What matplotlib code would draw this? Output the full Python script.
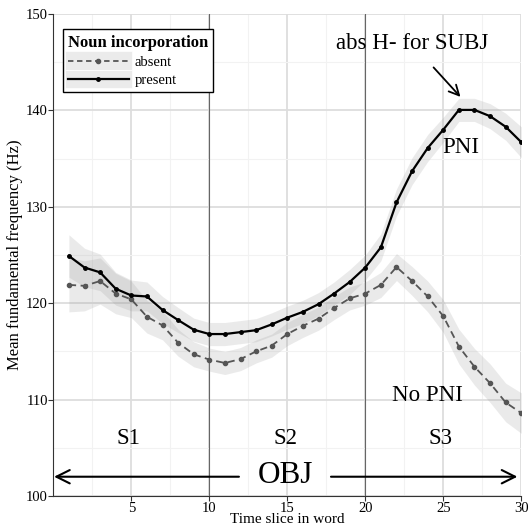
import numpy as np
import matplotlib.pyplot as plt
from matplotlib.lines import Line2D
from matplotlib.patches import Rectangle
from matplotlib.legend_handler import HandlerLine2D

plt.rcParams['font.family'] = ['Liberation Serif', 'DejaVu Serif']

# time slices
slices = np.arange(1, 31)

# mean F0 (Hz), noun incorporation present / absent
present = [124.9, 123.7, 123.2, 121.5, 120.8, 120.7, 119.3, 118.25, 117.25, 116.8,
           116.8, 117.0, 117.2, 117.8, 118.5, 119.1, 119.9, 121.0, 122.2, 123.7,
           125.8, 130.45, 133.7, 136.1, 138.0, 140.05, 140.05, 139.4, 138.3, 136.7]
absent = [121.9, 121.8, 122.3, 121.0, 120.4, 118.6, 117.7, 115.9, 114.7, 114.15,
          113.8, 114.2, 115.0, 115.6, 116.8, 117.65, 118.4, 119.5, 120.5, 121.0,
          121.9, 123.75, 122.3, 120.7, 118.65, 115.5, 113.4, 111.7, 109.7, 108.6]

# half widths of confidence bands
present_ci = [2.2, 2.0, 1.9, 1.7, 1.6, 1.5, 1.4, 1.3, 1.2, 1.2, 1.2, 1.2, 1.2, 1.2, 1.2,
              1.2, 1.2, 1.2, 1.3, 1.3, 1.4, 1.4, 1.4, 1.4, 1.3, 1.2, 1.2, 1.3, 1.4, 1.6]
absent_ci = [2.8, 2.6, 2.4, 2.1, 1.9, 1.7, 1.5, 1.4, 1.3, 1.2, 1.2, 1.2, 1.2, 1.2, 1.2,
             1.2, 1.2, 1.2, 1.2, 1.2, 1.3, 1.4, 1.5, 1.6, 1.7, 1.8, 1.9, 2.0, 2.0, 2.1]

syllables = ['S1', 'S2', 'S3']
syll_x = [4.8, 14.9, 24.8]
boundaries = [10, 20]


class KeyBg(HandlerLine2D):
    # fond gris derriere les cles de legende (style ggplot)
    def create_artists(self, legend, orig_handle, xdescent, ydescent,
                       width, height, fontsize, trans):
        arts = super().create_artists(legend, orig_handle, xdescent, ydescent,
                                      width, height, fontsize, trans)
        bg = Rectangle((-xdescent - 2, -ydescent - 3), width + 4, height + 6,
                       facecolor='#ebebeb', edgecolor='white', lw=0.5, transform=trans)
        return [bg] + arts


fig = plt.figure(figsize=(5.31, 5.28), dpi=100)
ax = fig.add_axes([53.3 / 531, 1 - 496 / 528, 468 / 531, 482 / 528])

# grille
ax.set_xticks([5, 10, 15, 20, 25, 30])
ax.set_xticks(np.arange(2.5, 30, 5), minor=True)
ax.set_yticks(np.arange(100, 151, 10))
ax.set_yticks(np.arange(105, 150, 10), minor=True)
ax.grid(which='major', color='#dddddd', lw=1.3)
ax.grid(which='minor', color='#f2f2f2', lw=0.8)
ax.set_axisbelow(True)
for b in boundaries:
    ax.axvline(b, color='#666666', lw=0.8, zorder=1)

p = np.array(present)
a = np.array(absent)
ax.fill_between(slices, a - absent_ci, a + absent_ci, color='#999999', alpha=0.2, lw=0, zorder=2)
ax.fill_between(slices, p - present_ci, p + present_ci, color='#999999', alpha=0.2, lw=0, zorder=2)
ax.plot(slices, absent, color='#555555', ls=(0, (4, 2.5)), lw=1.3, marker='o', ms=3, zorder=3)
ax.plot(slices, present, color='black', lw=1.6, marker='o', ms=2.5, zorder=4)

ax.set_xlim(0, 30)
ax.set_ylim(100, 150)
for s in ['top', 'right']:
    ax.spines[s].set_visible(False)
ax.spines['left'].set_color('#333333')
ax.spines['bottom'].set_color('#333333')
ax.tick_params(which='major', labelsize=10.5, length=3.5, color='#333333', pad=0.5)
ax.tick_params(which='minor', length=0)
ax.set_xlabel('Time slice in word', fontsize=11, labelpad=-1)
ax.set_ylabel('Mean fundamental frequency (Hz)', fontsize=12, labelpad=2)

# annotations
ax.annotate('abs H- for SUBJ', xy=(26.1, 141.4), xytext=(23.0, 146.9),
            fontsize=16.5, ha='center', va='center',
            arrowprops=dict(arrowstyle='->', lw=1.3, color='black',
                            shrinkA=10, shrinkB=0, mutation_scale=18))
ax.text(26.1, 136.1, 'PNI', fontsize=16.5, ha='center', va='center')
ax.text(24.0, 110.45, 'No PNI', fontsize=16.5, ha='center', va='center')
for lab, sx in zip(syllables, syll_x):
    ax.text(sx, 106.0, lab, fontsize=16.5, ha='center', va='center')
ax.text(14.9, 102.1, 'OBJ', fontsize=22.5, ha='center', va='center')
ax.annotate('', xy=(0.05, 102.0), xytext=(11.9, 102.0),
            arrowprops=dict(arrowstyle='->', lw=1.5, color='black', mutation_scale=24,
                            shrinkA=0, shrinkB=0))
ax.annotate('', xy=(29.75, 102.0), xytext=(17.8, 102.0),
            arrowprops=dict(arrowstyle='->', lw=1.5, color='black', mutation_scale=24,
                            shrinkA=0, shrinkB=0))

handles = [Line2D([], [], color='#555555', ls=(0, (3, 2)), lw=1.3, marker='o', ms=3),
           Line2D([], [], color='black', lw=1.6, marker='o', ms=2.5)]
leg = ax.legend(handles, ['absent', 'present'], title='Noun incorporation',
                loc='upper left', bbox_to_anchor=(0.02, 0.968), fontsize=10.5,
                title_fontproperties={'weight': 'bold', 'size': 12},
                fancybox=False, edgecolor='black', framealpha=1, numpoints=1,
                handler_map={Line2D: KeyBg()},
                handlelength=4.2, borderpad=0.35, labelspacing=0.35, handletextpad=0.4,
                borderaxespad=0)
leg._legend_box.align = 'left'
leg.get_frame().set_linewidth(1.0)

fig.savefig('out.png', dpi=100)
